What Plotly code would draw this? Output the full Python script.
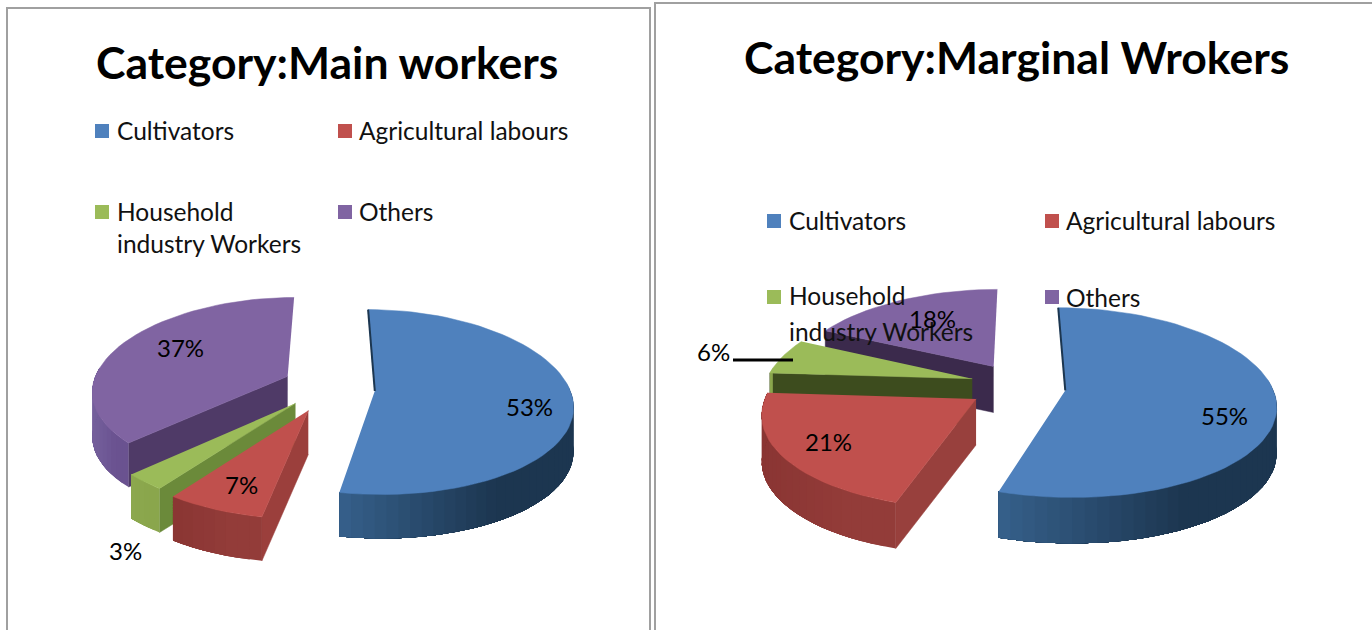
import math
import plotly.graph_objects as go

categories = ["Cultivators", "Agricultural labours", "Household<br>industry Workers", "Others"]
main_values = [53, 7, 3, 37]
marginal_values = [55, 21, 6, 18]
main_title = "Category:Main workers"
marginal_title = "Category:Marginal Wrokers"

TOP = ["#4f81bd", "#c0504d", "#9bbb59", "#8064a2"]
ARC_L = ["#36608b", "#8a3533", "#8ca84e", "#75609c"]
ARC_R = ["#1c3650", "#933c39", "#8aa64c", "#6a5290"]

panels = [
    dict(values=main_values, title=main_title, cx=330, cy=385, rx=195, ry=92, kx=0.15, ky=0.12, depth=44,
         pull=[0.23, 0.27, 0.26, 0.24], nudge=[4, 2, 0, 0],
         face=["#1c3650", "#9b3f3c", "#6b8a3a", "#4f3a67"],
         title_xy=(327, 61), line_step=32,
         leg_sq=[(102, 131), (345, 131), (102, 212), (345, 212)],
         leg_tx=[(115, 130), (357, 130), (115, 211), (357, 211)],
         lab=[(529, 406), (241, 484), (125, 550), (180, 347)]),
    dict(values=marginal_values, title=marginal_title, cx=1018, cy=384, rx=207, ry=94, kx=0.15, ky=0.13, depth=46,
         pull=[0.23, 0.24, 0.23, 0.226], nudge=[3, 2, 0, 0],
         face=["#1c3650", "#98403d", "#3d4c1e", "#3b2a4c"],
         title_xy=(1016, 56), line_step=36,
         leg_sq=[(774, 221), (1052, 221), (774, 297), (1052, 297)],
         leg_tx=[(787, 220), (1064, 220), (787, 295), (1064, 297)],
         lab=[(1224, 415), (828, 441), (713, 351), (932, 318)]),
]

FONT = "Lato"
fig = go.Figure()


def mix(a, b, t):
    ca = [int(a[i:i + 2], 16) for i in (1, 3, 5)]
    cb = [int(b[i:i + 2], 16) for i in (1, 3, 5)]
    return "#%02x%02x%02x" % tuple(round(x + (y - x) * t) for x, y in zip(ca, cb))


def poly(xs, ys, color, width=0.5):
    fig.add_trace(go.Scatter(x=xs, y=ys, mode="lines", fill="toself", fillcolor=color,
                             line=dict(color=color, width=width), hoverinfo="skip", showlegend=False))


for p in panels:
    total = sum(p["values"])
    spans = []
    a = 0.0
    for v in p["values"]:
        spans.append((a, a + v / total * 2 * math.pi))
        a = spans[-1][1]

    def proj(i, r, th, z=0):
        b = sum(spans[i]) / 2
        u = p["pull"][i] * math.sin(b) + r * math.sin(th)
        w = -p["pull"][i] * math.cos(b) - r * math.cos(th)
        return (p["cx"] + p["rx"] * u * (1 + p["kx"] * w),
                p["cy"] + p["ry"] * w * (1 + p["ky"] * w) + z * p["depth"] + p["nudge"][i])

    for i in [3, 2, 1, 0]:
        a0, a1 = spans[i]
        n = max(6, int((a1 - a0) / math.radians(3)))
        ths = [a0 + (a1 - a0) * j / n for j in range(n + 1)]
        if i != 0:
            pts = [proj(i, 0, a0), proj(i, 1, a0), proj(i, 1, a0, 1), proj(i, 0, a0, 1)]
            poly([q[0] for q in pts], [q[1] for q in pts], p["face"][i])
        front = [j for j in range(n) if math.cos((ths[j] + ths[j + 1]) / 2) < 0.1]
        if front:
            xs_all = [proj(i, 1, ths[j + d])[0] for j in front for d in (0, 1)]
            lo, hi = min(xs_all), max(xs_all)
            for j in front:
                arc = ths[j:front[-1] + 2]
                pts = [proj(i, 1, t) for t in arc] + [proj(i, 1, t, 1) for t in reversed(arc)]
                t = ((proj(i, 1, ths[j])[0] + proj(i, 1, ths[j + 1])[0]) / 2 - lo) / max(hi - lo, 1)
                poly([q[0] for q in pts], [q[1] for q in pts], mix(ARC_L[i], ARC_R[i], min(1, t * 1.5)), width=0)
        pts = [proj(i, 0, a0)] + [proj(i, 1, t) for t in ths]
        poly([q[0] for q in pts], [q[1] for q in pts], TOP[i])
        if i == 0:
            e0, e1 = proj(i, 0, a0), proj(i, 1, a0)
            fig.add_trace(go.Scatter(x=[e0[0], e1[0]], y=[e0[1], e1[1]], mode="lines",
                                     line=dict(color="#1c3650", width=2), hoverinfo="skip", showlegend=False))

    fig.add_annotation(x=p["title_xy"][0], y=p["title_xy"][1], text="<b>%s</b>" % p["title"], showarrow=False,
                       font=dict(family=FONT, size=44.5, color="#000000"), xanchor="center", yanchor="middle")
    for (x, y), c in zip(p["leg_sq"], TOP):
        fig.add_shape(type="rect", x0=x - 7, x1=x + 7, y0=y - 7, y1=y + 7, fillcolor=c, line_width=0, layer="above")
    for (x, y), name in zip(p["leg_tx"], categories):
        for k, part in enumerate(name.split("<br>")):
            fig.add_annotation(x=x, y=y + k * p["line_step"], text=part, showarrow=False, xanchor="left",
                               yanchor="middle", font=dict(family=FONT, size=24.5, color="#111111"))
    for (x, y), v in zip(p["lab"], p["values"]):
        fig.add_annotation(x=x, y=y, text="%d%%" % v, showarrow=False, xanchor="center", yanchor="middle",
                           font=dict(family=FONT, size=24, color="#000000"))

fig.add_shape(type="line", x0=733, x1=793, y0=360, y1=360, line=dict(color="#000000", width=3), layer="above")
fig.add_shape(type="rect", x0=7, x1=650, y0=8, y1=640, line=dict(color="#a0a0a0", width=2), layer="above")
fig.add_shape(type="rect", x0=655, x1=1385, y0=3, y1=640, line=dict(color="#a0a0a0", width=2), layer="above")

fig.update_layout(width=1372, height=630, margin=dict(l=0, r=0, t=0, b=0), paper_bgcolor="white",
                  plot_bgcolor="white", showlegend=False,
                  xaxis=dict(range=[0, 1372], visible=False, fixedrange=True),
                  yaxis=dict(range=[630, 0], visible=False, fixedrange=True))
fig.write_html("out.html", config={"displayModeBar": False},
               post_script="document.body.style.margin='0';document.body.style.overflow='hidden';")
